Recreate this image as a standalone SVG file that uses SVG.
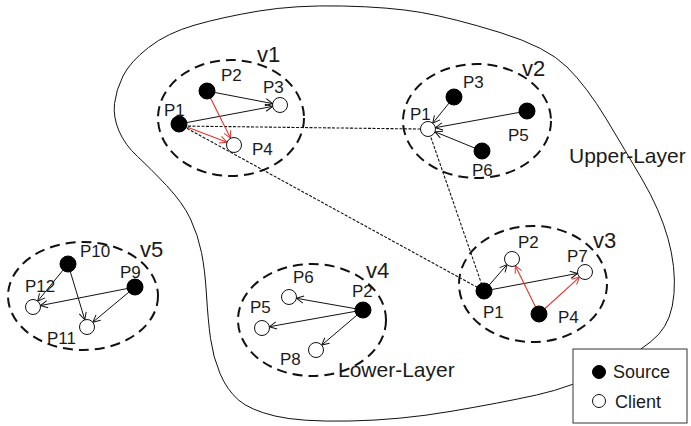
<svg xmlns="http://www.w3.org/2000/svg" width="691" height="426" viewBox="0 0 691 426">
<defs>
<style>
text{font-family:"Liberation Sans",Arial,sans-serif;fill:#1a1a1a}
.lb{font-size:17px}
.vl{font-size:22px}
.big{font-size:21px}
.lg{font-size:18px}
.grp{fill:none;stroke:#111;stroke-width:2;stroke-dasharray:10 6}
.src{fill:#000;stroke:#000;stroke-width:1}
.cli{fill:#fff;stroke:#111;stroke-width:1}
.a{stroke:#111;stroke-width:1;fill:none;marker-end:url(#ab)}
.r{stroke:#e8302a;stroke-width:1.1;fill:none;marker-end:url(#ar)}
.d{stroke:#111;stroke-width:1.1;fill:none;stroke-dasharray:3 1.5}
</style>
<marker id="ab" viewBox="0 0 10 10" refX="9" refY="5" markerWidth="9" markerHeight="9" markerUnits="userSpaceOnUse" orient="auto"><path d="M1,1 L9,5 L1,9" fill="none" stroke="#111" stroke-width="1.1"/></marker>
<marker id="ar" viewBox="0 0 10 10" refX="9" refY="5" markerWidth="9" markerHeight="9" markerUnits="userSpaceOnUse" orient="auto"><path d="M1,1 L9,5 L1,9" fill="none" stroke="#e8302a" stroke-width="1.1"/></marker>
</defs>
<rect width="691" height="426" fill="#fff"/>
<g id="upper-layer">
<path d="M119,131 Q113,117 114.5,103.5 Q116,90 123,76 Q130,62 148.5,47.5 Q167,33 195,25 Q223,17 259,11 Q295,5 342.5,6 Q390,7 421.5,12.5 Q453,18 500,32.5 Q547,47 567,67 Q587,87 606,118.5 Q625,150 642.5,180 Q660,210 668,238.5 Q676,267 674,293.5 Q672,320 658.5,334.5 Q645,349 609,368 Q573,387 536.5,395 Q500,403 450,411.5 Q400,420 350,421 Q300,422 275,416 Q250,410 238.5,400 Q227,390 220,373.5 Q213,357 210.5,338.5 Q208,320 206.5,295 Q205,270 201.5,252.5 Q198,235 190.5,219 Q183,203 166.5,185.5 Q150,168 137.5,156.5 Q125,145 119,131 Z" fill="none" stroke="#111" stroke-width="1"/>
<text class="big" x="569" y="163">Upper-Layer</text>
</g>
<g id="connectors">
<line class="d" x1="179" y1="126" x2="420" y2="129"/>
<line class="d" x1="179" y1="124" x2="484" y2="291"/>
<line class="d" x1="428" y1="129" x2="484" y2="291"/>
<line class="a" x1="207" y1="91" x2="272.6" y2="103.6"/>
<line class="a" x1="179" y1="124" x2="272.6" y2="106.4"/>
<line class="r" x1="207" y1="91" x2="230.6" y2="138.3"/>
<line class="r" x1="179" y1="124" x2="227" y2="142.3"/>
<line class="a" x1="454" y1="97" x2="432.7" y2="123.2"/>
<line class="a" x1="527" y1="111" x2="435.4" y2="127.7"/>
<line class="a" x1="482" y1="151" x2="435" y2="131.8"/>
<line class="a" x1="484" y1="291" x2="507.1" y2="264.6"/>
<line class="a" x1="484" y1="291" x2="577.6" y2="273.4"/>
<line class="r" x1="539" y1="314" x2="515.3" y2="265.7"/>
<line class="r" x1="539" y1="314" x2="579.5" y2="277.1"/>
<line class="a" x1="363" y1="310" x2="296.4" y2="298.3"/>
<line class="a" x1="363" y1="310" x2="269.4" y2="326.7"/>
<line class="a" x1="363" y1="310" x2="321.7" y2="345.1"/>
<line class="a" x1="68" y1="264" x2="37.7" y2="301.2"/>
<line class="a" x1="68" y1="264" x2="84.8" y2="319.8"/>
<line class="a" x1="135" y1="287" x2="40.4" y2="305.6"/>
<line class="a" x1="135" y1="287" x2="92.8" y2="322.2"/>
</g>
<g id="v1">
<ellipse class="grp" cx="231" cy="118" rx="73" ry="58"/>
<text class="vl" x="257" y="62">v1</text>
<circle class="src" cx="207" cy="91" r="8"/>
<circle class="cli" cx="280" cy="105" r="7.5"/>
<circle class="src" cx="179" cy="124" r="8"/>
<circle class="cli" cx="234" cy="145" r="7.5"/>
<text class="lb" x="221" y="81">P2</text>
<text class="lb" x="263" y="93">P3</text>
<text class="lb" x="164" y="116">P1</text>
<text class="lb" x="252" y="155">P4</text>
</g>
<g id="v2">
<ellipse class="grp" cx="477" cy="121" rx="74" ry="57"/>
<text class="vl" x="522" y="76">v2</text>
<circle class="src" cx="454" cy="97" r="8"/>
<circle class="src" cx="527" cy="111" r="8"/>
<circle class="src" cx="482" cy="151" r="8"/>
<circle class="cli" cx="428" cy="129" r="7.5"/>
<text class="lb" x="463" y="88">P3</text>
<text class="lb" x="410" y="120">P1</text>
<text class="lb" x="508" y="141">P5</text>
<text class="lb" x="472" y="176">P6</text>
</g>
<g id="v3">
<ellipse class="grp" cx="533" cy="284" rx="74" ry="58"/>
<text class="vl" x="593" y="248">v3</text>
<circle class="cli" cx="512" cy="259" r="7.5"/>
<circle class="cli" cx="585" cy="272" r="7.5"/>
<circle class="src" cx="484" cy="291" r="8"/>
<circle class="src" cx="539" cy="314" r="8"/>
<text class="lb" x="518" y="248">P2</text>
<text class="lb" x="567" y="262">P7</text>
<text class="lb" x="483" y="318">P1</text>
<text class="lb" x="558" y="323">P4</text>
</g>
<g id="v4">
<ellipse class="grp" cx="312" cy="320" rx="74" ry="56"/>
<text class="vl" x="366" y="278">v4</text>
<circle class="cli" cx="289" cy="297" r="7.5"/>
<circle class="cli" cx="262" cy="328" r="7.5"/>
<circle class="cli" cx="316" cy="350" r="7.5"/>
<circle class="src" cx="363" cy="310" r="8"/>
<text class="lb" x="293" y="283">P6</text>
<text class="lb" x="250" y="313">P5</text>
<text class="lb" x="280" y="365">P8</text>
<text class="lb" x="352" y="297">P2</text>
</g>
<g id="lower-layer">
<text class="big" x="338" y="377">Lower-Layer</text>
</g>
<g id="v5">
<ellipse class="grp" cx="83" cy="296" rx="75" ry="54"/>
<text class="vl" x="140" y="257">v5</text>
<circle class="src" cx="68" cy="264" r="8"/>
<circle class="src" cx="135" cy="287" r="8"/>
<circle class="cli" cx="33" cy="307" r="7.5"/>
<circle class="cli" cx="87" cy="327" r="7.5"/>
<text class="lb" x="80" y="257">P10</text>
<text class="lb" x="120" y="278">P9</text>
<text class="lb" x="25" y="292">P12</text>
<text class="lb" x="47" y="344">P11</text>
</g>
<g id="legend">
<rect x="573" y="349" width="114" height="74" fill="#fff" stroke="#333" stroke-width="1"/>
<circle class="src" cx="599" cy="372" r="6.5"/>
<text class="lg" x="613" y="378">Source</text>
<circle class="cli" cx="599" cy="401" r="6.5"/>
<text class="lg" x="615" y="408">Client</text>
</g>
</svg>
